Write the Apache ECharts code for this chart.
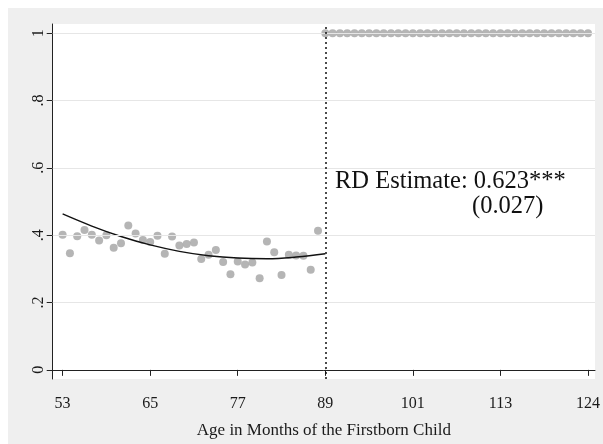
<!DOCTYPE html>
<html>
<head>
<meta charset="utf-8">
<script src="https://cdn.jsdelivr.net/npm/echarts@6/dist/echarts.min.js"></script>
<style>
  html, body { margin: 0; padding: 0; background: #fff; }
  #wrap { position: relative; width: 603px; height: 444px; background: #fff; }
  #chart { position: absolute; left: 8px; top: 8px; width: 595px; height: 436px; }
</style>
</head>
<body>
<div id="wrap"><div id="chart"></div></div>
<script>
// 左侧：断点前各月份均值
const leftMonths = [53, 54, 55, 56, 57, 58, 59, 60, 61, 62, 63, 64, 65, 66, 67, 68, 69, 70,
  71, 72, 73, 74, 75, 76, 77, 78, 79, 80, 81, 82, 83, 84, 85, 86, 87, 88];
const leftShare = [0.401, 0.346, 0.397, 0.415, 0.401, 0.384, 0.400, 0.363, 0.376, 0.429,
  0.405, 0.386, 0.380, 0.398, 0.345, 0.396, 0.369, 0.374, 0.378, 0.329, 0.342, 0.356,
  0.320, 0.284, 0.322, 0.313, 0.319, 0.272, 0.381, 0.349, 0.282, 0.342, 0.340, 0.339,
  0.297, 0.413];

// 右侧：断点后
const rightMonths = [89, 90, 91, 92, 93, 94, 95, 96, 97, 98, 99, 100, 101, 102, 103, 104,
  105, 106, 107, 108, 109, 110, 111, 112, 113, 114, 115, 116, 117, 118, 119, 120, 121,
  122, 123, 124, 125];
const rightShare = [1, 1, 1, 1, 1, 1, 1, 1, 1, 1, 1, 1, 1, 1, 1, 1, 1, 1, 1, 1, 1, 1, 1,
  1, 1, 1, 1, 1, 1, 1, 1, 1, 1, 1, 1, 1, 1];

// 二次拟合线
const fitMonths = [53, 57, 61, 65, 69, 73, 77, 81, 85, 89];
const fitShare = [0.463, 0.427, 0.396, 0.371, 0.352, 0.339, 0.332, 0.330, 0.335, 0.345];

// 刻度
const xTickValues = [53, 65, 77, 89, 101, 113, 125];
const xTickLabels = ['53', '65', '77', '89', '101', '113', '124'];
const yTickValues = [0, 0.2, 0.4, 0.6, 0.8, 1];
const yTickLabels = ['0', '.2', '.4', '.6', '.8', '1'];
const gridValues = [0.2, 0.4, 0.6, 0.8, 1];

const cutoff = 89;
const estimateText = 'RD Estimate: 0.623***';
const seText = '(0.027)';

const serif = '"Liberation Serif", "DejaVu Serif", serif';
const dotColor = '#a3a3a3';

const myChart = echarts.init(document.getElementById('chart'));

const options = {
  backgroundColor: '#efefef',
  animation: false,
  grid: {
    left: 44.7,
    top: 16,
    right: 5.3,
    bottom: 58,
    show: true,
    backgroundColor: '#fff',
    borderWidth: 0
  },
  xAxis: {
    type: 'value',
    min: 51.64,
    max: 125.96,
    name: 'Age in Months of the Firstborn Child',
    nameLocation: 'middle',
    nameGap: 43,
    nameTextStyle: { fontFamily: serif, fontSize: 17, color: '#1a1a1a' },
    axisLine: { lineStyle: { color: '#222', width: 1 } },
    axisTick: { customValues: xTickValues, length: 6, lineStyle: { color: '#222' } },
    axisLabel: {
      customValues: xTickValues,
      formatter: v => xTickLabels[xTickValues.indexOf(v)],
      fontFamily: serif,
      fontSize: 16,
      color: '#1a1a1a',
      margin: 17
    },
    splitLine: { show: false }
  },
  yAxis: {
    type: 'value',
    min: -0.0271,
    max: 1.0271,
    axisLine: { show: true, lineStyle: { color: '#222', width: 1 } },
    axisTick: { show: true, customValues: yTickValues, length: 6, lineStyle: { color: '#222' } },
    axisLabel: {
      customValues: yTickValues,
      formatter: v => yTickLabels[yTickValues.indexOf(v)],
      rotate: 90,
      fontFamily: serif,
      fontSize: 16,
      color: '#1a1a1a',
      margin: 6
    },
    splitLine: { show: false }
  },
  graphic: [
    {
      type: 'text',
      left: 327,
      top: 161,
      style: { text: estimateText, font: '24.5px ' + serif, fill: '#111' }
    },
    {
      type: 'text',
      left: 464,
      top: 186,
      style: { text: seText, font: '24.5px ' + serif, fill: '#111' }
    }
  ],
  series: [
    {
      // 网格线
      type: 'line',
      data: [],
      silent: true,
      z: 1,
      markLine: {
        silent: true,
        symbol: 'none',
        label: { show: false },
        lineStyle: { color: '#e6e6e6', width: 1, type: 'solid' },
        data: gridValues.map(v => ({ yAxis: v }))
      }
    },
    {
      type: 'scatter',
      data: leftMonths.map((m, i) => [m, leftShare[i]]),
      symbolSize: 8,
      itemStyle: { color: dotColor },
      z: 3
    },
    {
      type: 'scatter',
      data: rightMonths.map((m, i) => [m, rightShare[i]]),
      symbolSize: 8,
      itemStyle: { color: dotColor },
      z: 3
    },
    {
      type: 'line',
      data: fitMonths.map((m, i) => [m, fitShare[i]]),
      smooth: 0.4,
      showSymbol: false,
      lineStyle: { color: '#111', width: 1.4 },
      z: 4,
      markLine: {
        silent: true,
        symbol: 'none',
        label: { show: false },
        lineStyle: { color: '#111', width: 1.5, type: [2, 3] },
        data: [{ xAxis: cutoff }]
      }
    }
  ]
};

myChart.setOption(options);
</script>
</body>
</html>
